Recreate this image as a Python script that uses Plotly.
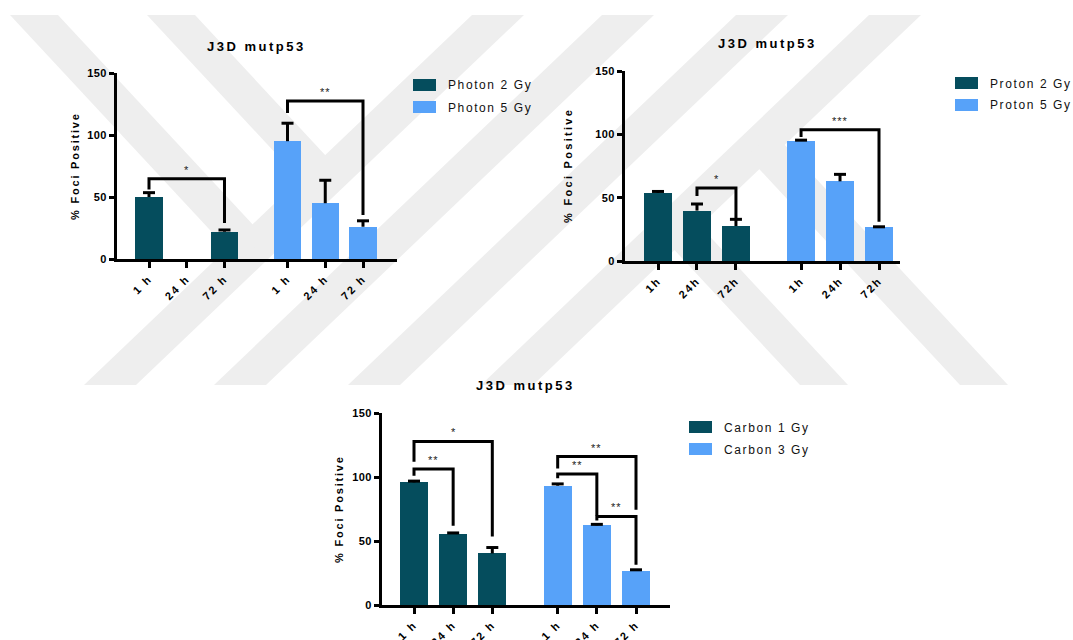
import plotly.graph_objects as go

W, H = 1073, 640
FONT = "Liberation Sans, Arial, sans-serif"
DARK = "#054d5d"
LIGHT = "#57a2f9"
WATERMARK = "#eeeeee"

# ---- data -------------------------------------------------------------
time_labels_spaced = ["1 h", "24 h", "72 h"]
time_labels_tight = ["1h", "24h", "72h"]
chart_title = "J3D mutp53"
y_title = "% Foci Positive"
y_ticks = [0, 50, 100, 150]

photon_series = ["Photon 2 Gy", "Photon 5 Gy"]
photon_mean = [[50, None, 22], [95, 45, 26]]
photon_sem = [[3.5, None, 1.4], [14.5, 18.5, 4.8]]

proton_series = ["Proton 2 Gy", "Proton 5 Gy"]
proton_mean = [[53.7, 39.8, 27.6], [95, 62.9, 26.6]]
proton_sem = [[1.2, 5.2, 5.3], [0.4, 5.5, 0.4]]

carbon_series = ["Carbon 1 Gy", "Carbon 3 Gy"]
carbon_mean = [[95.8, 55.5, 40.3], [93.2, 62.2, 26.8]]
carbon_sem = [[1.0, 0.8, 4.6], [1.4, 0.8, 0.7]]

# significance brackets: (first bar, last bar, top, left leg end, right leg end, label)
photon_brackets = [(0, 2, 64.8, 56, 29, "*"), (3, 5, 127.4, 117.7, 35.5, "**")]
proton_brackets = [(1, 2, 57.6, 51.3, 32.9, "*"), (3, 5, 103.7, 97.9, 31, "***")]
carbon_brackets = [
    (0, 2, 127.8, 112, 53.6, "*"),
    (0, 1, 106.2, 101, 62, "**"),
    (3, 5, 116, 106.7, 74.5, "**"),
    (3, 4, 102.3, 99, 70, "**"),
    (4, 5, 69.2, 66, 31.5, "**"),
]

# ---- panel placement (pixels) ------------------------------------------
GROUP_STEP = 3.67      # distance from the first bar of one group to the next
BAR_WIDTH = 0.72
CAP_PX = 6

panels = [
    dict(series=photon_series, mean=photon_mean, sem=photon_sem, brackets=photon_brackets,
         labels=time_labels_spaced, axis_x=117, right=397, top=73, bottom=259,
         tick0=149, tick_last=363, title_xy=(256, 46), legend_xy=(413, 79),
         ytitle_x=75, ytitle_spacing=1.8),
    dict(series=proton_series, mean=proton_mean, sem=proton_sem, brackets=proton_brackets,
         labels=time_labels_tight, axis_x=625, right=900, top=71, bottom=261,
         tick0=658, tick_last=879, title_xy=(767, 44), legend_xy=(955, 77),
         ytitle_x=568, ytitle_spacing=2.3),
    dict(series=carbon_series, mean=carbon_mean, sem=carbon_sem, brackets=carbon_brackets,
         labels=time_labels_spaced, axis_x=382, right=670, top=413, bottom=605,
         tick0=414, tick_last=636, title_xy=(525, 385), legend_xy=(689, 421),
         ytitle_x=339, ytitle_spacing=1.8),
]
colors = [DARK, LIGHT]


def spaced(text, px):
    return f"<span style='letter-spacing:{px}px'>{text}</span>"


def pp(x, y):
    return x / W, 1 - y / H


fig = go.Figure()
annotations = []
shapes = []

# ---- background watermark bands ----------------------------------------
def poly(points):
    return "M" + "L".join(f"{x / W:.5f},{1 - y / H:.5f}" for x, y in points) + "Z"

WM_TOP, WM_BOT = 15, 385
SLASH_W, SLASH_SHIFT = 52, 388
BACK_W, BACK_SLOPE = 48, 0.93
slash_left = [472, 602, 736, 869]
back_top_left = [10, 147]
back_bottom_left = [800, 960]
k = SLASH_SHIFT / (WM_BOT - WM_TOP)

for a in slash_left:
    pts = [(a, WM_TOP), (a + SLASH_W, WM_TOP),
           (a + SLASH_W - SLASH_SHIFT, WM_BOT), (a - SLASH_SHIFT, WM_BOT)]
    shapes.append(dict(type="path", path=poly(pts), xref="paper", yref="paper",
                       fillcolor=WATERMARK, line=dict(width=0), layer="below"))

c_first = slash_left[0] + SLASH_W / 2
for b in back_top_left:
    tl = (c_first - b) / (BACK_SLOPE + k)
    tr = (c_first - b - BACK_W) / (BACK_SLOPE + k)
    pts = [(b, WM_TOP), (b + BACK_W, WM_TOP),
           (b + BACK_W + BACK_SLOPE * tr, WM_TOP + tr), (b + BACK_SLOPE * tl, WM_TOP + tl)]
    shapes.append(dict(type="path", path=poly(pts), xref="paper", yref="paper",
                       fillcolor=WATERMARK, line=dict(width=0), layer="below"))

c_last = slash_left[-1] + SLASH_W / 2
base = c_last - SLASH_SHIFT
for r in back_bottom_left:
    tl = (r - base) / (BACK_SLOPE + k)
    tr = (r + BACK_W - base) / (BACK_SLOPE + k)
    pts = [(r, WM_BOT), (r + BACK_W, WM_BOT),
           (r + BACK_W - BACK_SLOPE * tr, WM_BOT - tr), (r - BACK_SLOPE * tl, WM_BOT - tl)]
    shapes.append(dict(type="path", path=poly(pts), xref="paper", yref="paper",
                       fillcolor=WATERMARK, line=dict(width=0), layer="below"))

# ---- panels ------------------------------------------------------------
for n, p in enumerate(panels, start=1):
    xa = "x" if n == 1 else f"x{n}"
    ya = "y" if n == 1 else f"y{n}"
    positions = [g * GROUP_STEP + i for g in range(2) for i in range(3)]
    ppu = (p["tick_last"] - p["tick0"]) / positions[-1]
    cap = CAP_PX / ppu

    err_x, err_y = [], []
    for s, name in enumerate(p["series"]):
        xs = positions[s * 3:(s + 1) * 3]
        fig.add_trace(go.Bar(
            x=xs, y=p["mean"][s], name=name, width=BAR_WIDTH,
            marker=dict(color=colors[s], line=dict(width=0)),
            xaxis=xa, yaxis=ya, showlegend=False,
        ))
        for x, m, e in zip(xs, p["mean"][s], p["sem"][s]):
            if m is None or e is None:
                continue
            err_x += [x, x, None, x - cap, x + cap, None]
            err_y += [m, m + e, None, m + e, m + e, None]
    fig.add_trace(go.Scatter(x=err_x, y=err_y, mode="lines", line=dict(color="black", width=3),
                             xaxis=xa, yaxis=ya, showlegend=False, hoverinfo="skip"))

    br_x, br_y = [], []
    for i0, i1, top, l_end, r_end, label in p["brackets"]:
        x0, x1 = positions[i0], positions[i1]
        br_x += [x0, x0, x1, x1, None]
        br_y += [l_end, top, top, r_end, None]
        annotations.append(dict(x=(x0 + x1) / 2, y=top, xref=xa, yref=ya, text=spaced(label, 1),
                                showarrow=False, yanchor="bottom", yshift=1,
                                font=dict(family=FONT, size=11, color="#222")))
    fig.add_trace(go.Scatter(x=br_x, y=br_y, mode="lines", line=dict(color="black", width=3),
                             xaxis=xa, yaxis=ya, showlegend=False, hoverinfo="skip"))

    x_range = [(p["axis_x"] - p["tick0"]) / ppu, (p["right"] - p["tick0"]) / ppu]
    axis_common = dict(showline=True, linewidth=3, linecolor="black", ticks="outside",
                       tickwidth=3, tickcolor="black", showgrid=False, zeroline=False,
                       automargin=False, fixedrange=True)
    fig.update_layout({
        ("xaxis" if n == 1 else f"xaxis{n}"): dict(
            domain=[p["axis_x"] / W, p["right"] / W], range=x_range, anchor=ya,
            tickvals=positions, ticktext=[spaced(t, 2) for t in p["labels"] * 2],
            tickangle=-45, ticklen=6,
            tickfont=dict(family=FONT, size=11, color="black", weight="bold"), **axis_common),
        ("yaxis" if n == 1 else f"yaxis{n}"): dict(
            domain=[1 - p["bottom"] / H, 1 - p["top"] / H], range=[0, 150], anchor=xa,
            tickvals=y_ticks, ticktext=[spaced(v, 0.4) for v in y_ticks], ticklen=5,
            tickfont=dict(family=FONT, size=11, color="black", weight="bold"), **axis_common),
    })

    tx, ty = pp(*p["title_xy"])
    annotations.append(dict(x=tx, y=ty, xref="paper", yref="paper", text=spaced(chart_title, 2.5),
                            showarrow=False, xanchor="center", yanchor="middle",
                            font=dict(family=FONT, size=13, color="black", weight="bold")))

    yx, yy = pp(p["ytitle_x"], (p["top"] + p["bottom"]) / 2)
    annotations.append(dict(x=yx, y=yy, xref="paper", yref="paper",
                            text=spaced(y_title, p["ytitle_spacing"]), textangle=-90,
                            showarrow=False, xanchor="center", yanchor="middle",
                            font=dict(family=FONT, size=11, color="black", weight="bold")))

    lx, ly = p["legend_xy"]
    for s, name in enumerate(p["series"]):
        y0 = ly + s * 22
        x0p, y0p = pp(lx, y0)
        x1p, y1p = pp(lx + 23, y0 + 12)
        shapes.append(dict(type="rect", xref="paper", yref="paper", x0=x0p, x1=x1p,
                           y0=y1p, y1=y0p, fillcolor=colors[s], line=dict(width=0)))
        txp, typ = pp(lx + 33, y0 + 6.5)
        annotations.append(dict(x=txp, y=typ, xref="paper", yref="paper", text=spaced(name, 1.6),
                                showarrow=False, xanchor="left", yanchor="middle",
                                font=dict(family=FONT, size=12, color="#111")))

fig.update_layout(
    width=W, height=H, autosize=False,
    margin=dict(l=0, r=0, t=0, b=0, pad=0),
    paper_bgcolor="white", plot_bgcolor="rgba(0,0,0,0)",
    bargap=0, showlegend=False,
    annotations=annotations, shapes=shapes,
    font=dict(family=FONT),
)

fig.write_html("out.html")
